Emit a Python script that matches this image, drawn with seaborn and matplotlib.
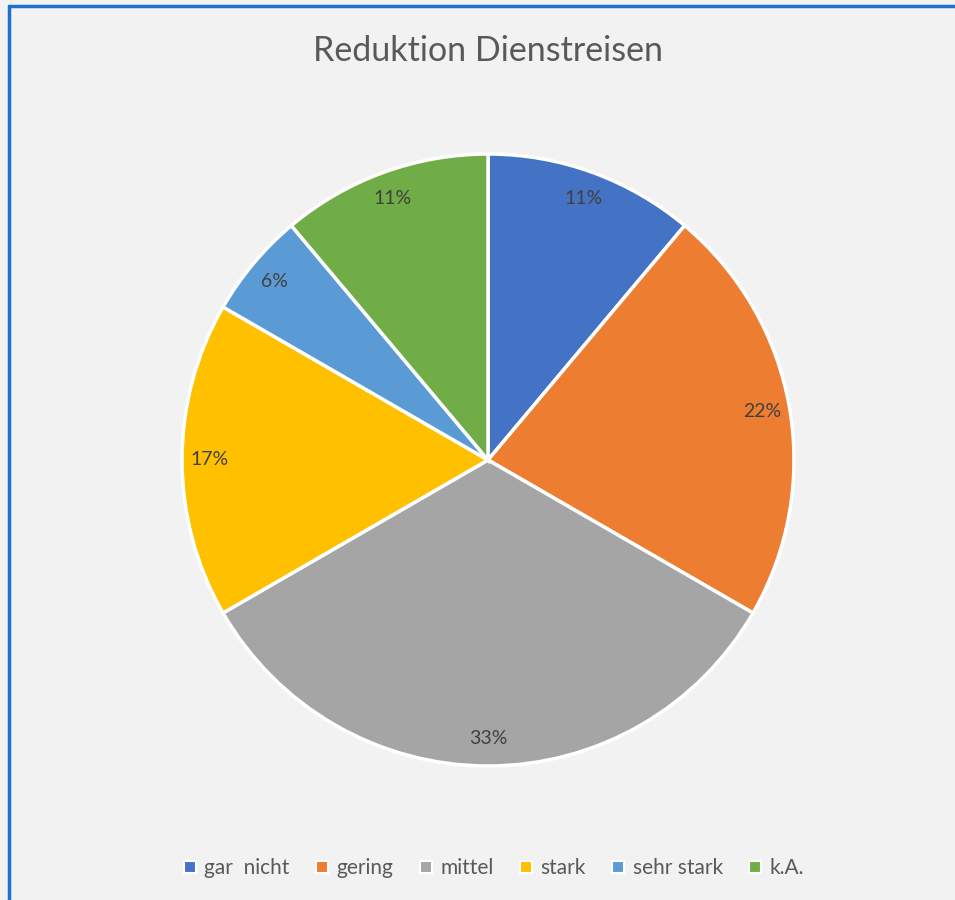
import matplotlib
matplotlib.use("Agg")
import matplotlib.pyplot as plt
from matplotlib.lines import Line2D
import seaborn as sns

categories = ["gar  nicht", "gering", "mittel", "stark", "sehr stark", "k.A."]
counts = [2, 4, 6, 3, 1, 2]
palette = ["#4472C4", "#ED7D31", "#A5A5A5", "#FFC000", "#5B9BD5", "#70AD47"]
title = "Reduktion Dienstreisen"

sns.set_style("white")
plt.rcParams["font.family"] = ["Lato", "DejaVu Sans"]

bg = "#F2F2F2"
fig = plt.figure(figsize=(9.55, 9), dpi=100, facecolor=bg)
colors = sns.color_palette(palette)

ax = fig.add_axes([0.1906, 0.1489, 0.6408, 0.68])
ax.set_facecolor(bg)
wedges, texts, autotexts = ax.pie(
    counts,
    colors=colors,
    startangle=90,
    counterclock=False,
    autopct="%1.0f%%",
    pctdistance=0.91,
    wedgeprops=dict(edgecolor="white", linewidth=2.5),
    textprops=dict(color="#404040", fontsize=14),
)
ax.set_xlim(-1.0, 1.0)
ax.set_ylim(-1.0, 1.0)
ax.set_aspect("equal")
ax.axis("off")

fig.text(0.511, 0.943, title, ha="center", va="center",
         fontsize=24.5, color="#595959")

handles = [Line2D([0], [0], marker="s", linestyle="none", markersize=8.5,
                  markerfacecolor=c, markeredgecolor="white", markeredgewidth=1.5)
           for c in colors]
fig.legend(handles, categories, loc="center", bbox_to_anchor=(0.516, 0.035),
           ncol=6, frameon=False, fontsize=15, labelcolor="#595959",
           handlelength=0.8, handletextpad=0.3, columnspacing=1.15)

# chart frame (left and top edges visible)
fig.add_artist(Line2D([0.0094, 0.0094], [0, 0.993], color="#1F6FD0", linewidth=2.5,
                      transform=fig.transFigure))
fig.add_artist(Line2D([0.0094, 1.0], [0.993, 0.993], color="#1F6FD0", linewidth=2.5,
                      transform=fig.transFigure))

fig.savefig("out.png", dpi=100, facecolor=bg)
